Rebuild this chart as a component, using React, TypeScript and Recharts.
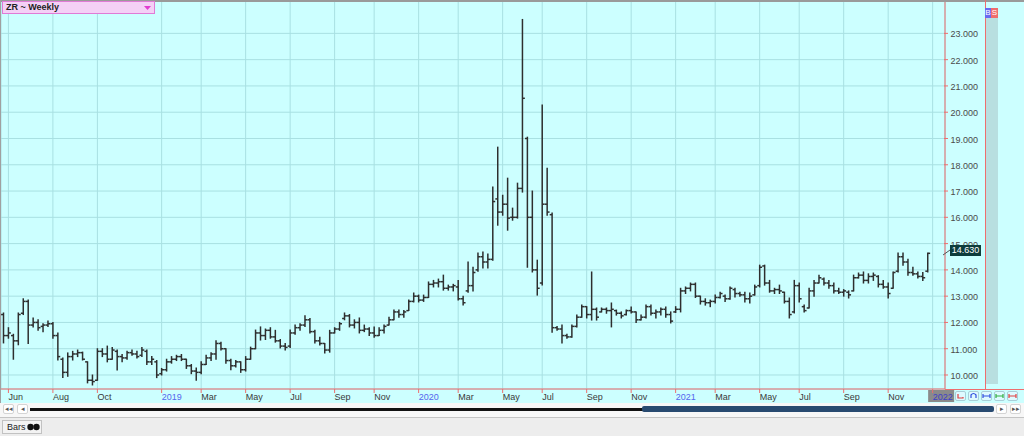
import React from "react";
import { ComposedChart, Bar, XAxis, YAxis, CartesianGrid } from "recharts";

// weekly OHLC, one entry per week from late May 2018 to the end of 2021
const opens = [
  12.3, 11.5, 11.5, 11.3, 12.35, 12.8, 11.9, 12.0, 11.85, 11.9,
  11.95, 11.5, 10.6, 10.1, 10.7, 10.8, 10.85, 10.5, 9.8, 9.8,
  10.9, 10.8, 10.6, 10.9, 10.7, 10.65, 10.85, 10.8, 10.75, 10.9,
  10.5, 10.5, 10.05, 10.2, 10.5, 10.6, 10.7, 10.6, 10.35, 10.15,
  10.1, 10.4, 10.65, 10.8, 11.2, 11.0, 10.55, 10.35, 10.5, 10.2,
  10.6, 11.0, 11.6, 11.5, 11.7, 11.45, 11.3, 11.1, 11.1, 11.6,
  11.8, 11.9, 12.1, 11.65, 11.3, 11.2, 10.95, 11.6, 11.75, 12.15,
  12.25, 11.9, 12.0, 11.7, 11.75, 11.6, 11.5, 11.7, 11.9, 12.1,
  12.4, 12.3, 12.45, 12.8, 13.0, 12.85, 12.95, 13.45, 13.5, 13.55,
  13.3, 13.35, 13.35, 12.9, 13.2, 13.4, 14.0, 14.5, 14.3, 14.4,
  16.7, 16.2, 16.5, 16.0, 16.0, 17.1, 19.0, 16.0, 14.0, 13.5,
  16.5, 16.1, 11.8, 11.75, 11.5, 11.45, 11.85, 12.2, 12.6, 12.3,
  12.5, 12.4, 12.5, 12.45, 12.45, 12.35, 12.3, 12.45, 12.4, 12.1,
  12.2, 12.6, 12.35, 12.4, 12.5, 12.3, 12.4, 12.5, 13.2, 13.3,
  13.45, 13.0, 12.8, 12.75, 12.8, 12.95, 13.0, 12.9, 13.25, 13.1,
  13.05, 12.9, 13.05, 13.4, 14.15, 13.5, 13.2, 13.25, 13.15, 12.8,
  12.4, 13.4, 12.6, 12.55, 13.2, 13.5, 13.65, 13.5, 13.4, 13.2,
  13.15, 13.15, 13.2, 13.7, 13.8, 13.6, 13.75, 13.75, 13.45, 13.35,
  13.3, 13.95, 14.5, 14.3, 13.9, 13.85, 13.75, 13.95,
];
const highs = [
  12.36, 11.8, 11.55, 12.36, 12.9, 12.85, 12.17, 12.1, 11.95, 12.05,
  12.0, 11.6, 10.65, 10.84, 10.9, 10.95, 10.87, 10.5, 10.0, 11.0,
  11.0, 11.1, 11.05, 10.95, 10.78, 10.9, 10.95, 10.9, 11.05, 10.95,
  10.7, 10.55, 10.25, 10.6, 10.7, 10.75, 10.78, 10.6, 10.4, 10.27,
  10.5, 10.75, 10.85, 11.3, 11.25, 11.0, 10.6, 10.55, 10.5, 10.7,
  11.06, 11.71, 11.83, 11.75, 11.8, 11.7, 11.35, 11.2, 11.71, 11.9,
  11.95, 12.25, 12.15, 11.7, 11.44, 11.2, 11.7, 11.8, 12.0, 12.36,
  12.3, 12.1, 12.17, 11.9, 11.8, 11.83, 11.8, 11.9, 12.2, 12.47,
  12.47, 12.45, 12.85, 13.12, 13.04, 13.04, 13.54, 13.6, 13.65, 13.8,
  13.42, 13.45, 13.6, 13.0, 14.3, 14.1, 14.64, 14.68, 14.6, 17.15,
  18.67, 16.84, 17.49, 16.35, 17.3, 23.53, 19.05, 17.0, 14.37, 20.27,
  17.87, 16.16, 11.85, 11.9, 11.55, 11.9, 12.28, 12.66, 12.6, 13.92,
  12.55, 12.55, 12.55, 12.74, 12.47, 12.4, 12.47, 12.59, 12.4, 12.28,
  12.66, 12.66, 12.47, 12.55, 12.59, 12.4, 12.6, 13.3, 13.35, 13.5,
  13.5, 13.0, 12.9, 12.85, 13.04, 13.15, 13.04, 13.35, 13.3, 13.15,
  13.15, 13.12, 13.42, 14.18, 14.18, 13.6, 13.3, 13.42, 13.15, 12.93,
  13.6, 13.5, 12.66, 13.3, 13.6, 13.8, 13.69, 13.6, 13.5, 13.3,
  13.25, 13.2, 13.8, 13.88, 13.92, 13.85, 13.88, 13.78, 13.6, 13.5,
  13.92, 14.64, 14.64, 14.4, 14.1, 13.92, 13.9, 14.64,
];
const lows = [
  11.22, 11.4, 10.6, 11.15, 12.3, 11.2, 11.83, 11.7, 11.65, 11.85,
  11.4, 10.57, 9.9, 9.95, 10.57, 10.7, 10.57, 9.7, 9.62, 9.8,
  10.7, 10.5, 10.6, 10.19, 10.5, 10.6, 10.75, 10.65, 10.7, 10.4,
  10.4, 9.9, 10.0, 10.15, 10.45, 10.55, 10.55, 10.25, 10.05, 9.8,
  10.05, 10.4, 10.55, 10.6, 10.95, 10.45, 10.2, 10.3, 10.1, 10.15,
  10.6, 11.0, 11.33, 11.35, 11.4, 11.25, 11.03, 10.95, 11.05, 11.55,
  11.7, 11.85, 11.6, 11.22, 11.14, 10.84, 10.87, 11.6, 11.7, 12.1,
  11.83, 11.79, 11.6, 11.65, 11.5, 11.44, 11.5, 11.6, 11.9, 12.1,
  12.2, 12.2, 12.45, 12.78, 12.78, 12.8, 12.95, 13.35, 13.35, 13.23,
  13.23, 13.2, 12.85, 12.66, 13.15, 13.2, 13.95, 14.07, 14.07, 14.37,
  15.7, 16.08, 15.51, 15.89, 15.97, 16.96, 14.1, 13.92, 13.04, 13.42,
  16.08, 11.63, 11.7, 11.22, 11.4, 11.44, 11.83, 12.2, 12.17, 12.09,
  12.09, 12.4, 12.35, 11.83, 12.28, 12.17, 12.28, 12.36, 12.0, 12.09,
  12.17, 12.28, 12.17, 12.28, 12.2, 11.98, 12.38, 12.4, 13.1, 13.2,
  12.95, 12.7, 12.66, 12.6, 12.74, 12.93, 12.8, 12.88, 12.97, 13.0,
  12.78, 12.74, 13.04, 13.35, 13.42, 13.15, 13.1, 13.1, 12.74, 12.17,
  12.36, 12.78, 12.4, 12.55, 13.0, 13.5, 13.42, 13.3, 13.12, 13.1,
  13.0, 12.93, 13.2, 13.69, 13.5, 13.5, 13.6, 13.35, 13.3, 12.93,
  13.3, 13.92, 14.18, 13.8, 13.8, 13.69, 13.6, 13.92,
];
const closes = [
  11.5, 11.6, 11.3, 12.3, 12.8, 11.9, 12.0, 11.8, 11.9, 11.95,
  11.5, 10.7, 10.1, 10.7, 10.8, 10.85, 10.6, 9.8, 9.75, 10.9,
  10.8, 10.6, 10.95, 10.7, 10.65, 10.85, 10.8, 10.7, 10.95, 10.5,
  10.6, 10.0, 10.2, 10.5, 10.6, 10.7, 10.6, 10.35, 10.15, 10.1,
  10.4, 10.65, 10.8, 11.2, 11.0, 10.55, 10.35, 10.5, 10.2, 10.6,
  11.0, 11.6, 11.5, 11.7, 11.45, 11.3, 11.1, 11.05, 11.6, 11.8,
  11.9, 12.1, 11.65, 11.3, 11.2, 10.95, 11.6, 11.75, 11.95, 12.25,
  11.9, 12.0, 11.7, 11.75, 11.6, 11.5, 11.7, 11.85, 12.1, 12.4,
  12.3, 12.4, 12.8, 13.0, 12.85, 12.95, 13.45, 13.5, 13.55, 13.3,
  13.35, 13.4, 12.9, 12.75, 13.4, 13.9, 14.5, 14.3, 14.4, 16.6,
  16.2, 16.5, 15.97, 16.0, 17.1, 20.53, 16.0, 14.0, 13.3, 16.5,
  16.2, 11.8, 11.75, 11.5, 11.45, 11.85, 12.2, 12.6, 12.3, 12.5,
  12.2, 12.5, 12.45, 12.5, 12.35, 12.25, 12.45, 12.4, 12.1, 12.2,
  12.6, 12.35, 12.4, 12.5, 12.3, 12.05, 12.5, 13.2, 13.3, 13.45,
  13.0, 12.8, 12.75, 12.8, 12.95, 13.1, 12.9, 13.3, 13.1, 13.05,
  12.9, 13.0, 13.35, 14.1, 13.5, 13.2, 13.25, 13.2, 12.8, 12.3,
  13.4, 12.9, 12.45, 13.2, 13.5, 13.7, 13.5, 13.4, 13.2, 13.15,
  13.2, 13.05, 13.7, 13.8, 13.6, 13.75, 13.8, 13.45, 13.35, 13.1,
  13.9, 14.5, 14.3, 13.9, 13.85, 13.75, 13.7, 14.63,
];

// week slots on the time axis (a few empty ones after the last bar)
const slotCount = 191;
const tickWeeks = [1, 10, 19, 32, 40, 49, 58, 67, 75, 84, 92, 101, 109, 118, 127, 136, 144, 153, 161, 170, 179, 188];
const tickLabels = ["Jun", "Aug", "Oct", "2019", "Mar", "May", "Jul", "Sep", "Nov", "2020", "Mar", "May", "Jul", "Sep", "Nov", "2021", "Mar", "May", "Jul", "Sep", "Nov", "2022"];
const priceTicks = [10, 11, 12, 13, 14, 15, 16, 17, 18, 19, 20, 21, 22, 23];
const lastPrice = closes[closes.length - 1];

const data = Array.from({ length: slotCount }, (_, i) =>
  i < opens.length
    ? { i, range: [lows[i], highs[i]], o: opens[i], c: closes[i] }
    : { i, range: null }
);

const FONT = '"Liberation Sans", Arial, sans-serif';
const RED = "#ee6e6e";
const BAR = "#2e2e2e";

function OhlcBar(props: any) {
  const { x, y, width, height, payload } = props;
  if (!payload || !payload.range) return null;
  const top = Math.min(y, y + height);
  const h = Math.abs(height);
  const [lo, hi] = payload.range;
  const span = hi - lo || 1;
  const cx = x + width / 2;
  const yOf = (v: number) => top + ((hi - v) / span) * h;
  return (
    <g stroke={BAR} strokeWidth={1.5}>
      <line x1={cx} x2={cx} y1={top - 0.5} y2={top + h + 0.5} />
      <line x1={cx - 2.4} x2={cx} y1={yOf(payload.o)} y2={yOf(payload.o)} />
      <line x1={cx} x2={cx + 2.4} y1={yOf(payload.c)} y2={yOf(payload.c)} />
    </g>
  );
}

function TimeTick(props: any) {
  const { x, y, payload } = props;
  const idx = tickWeeks.indexOf(payload.value);
  const label = tickLabels[idx] ?? "";
  const isYear = /^\d{4}$/.test(label);
  const isLast = idx === tickWeeks.length - 1;
  return (
    <g>
      {isLast && <rect x={x - 4.5} y={y + 1} width={26} height={12} fill="#8a8a8a" />}
      <line x1={x} x2={x} y1={y} y2={y + 4} stroke={RED} strokeWidth={1} />
      <text x={x} y={y + 10.5} fontSize={9} fontFamily={FONT} fill={isYear ? (isLast ? "#3d3dc8" : "#5566ee") : "#3a3a3a"}>
        {label}
      </text>
    </g>
  );
}

function PriceTick(props: any) {
  const { x, y, payload } = props;
  return (
    <g>
      <line x1={x - 1} x2={x + 3} y1={y} y2={y} stroke={RED} strokeWidth={1} />
      <text x={x + 5.5} y={y} dy="0.45em" fontSize={9} fontFamily={FONT} fill="#4a4a4a">
        {Number(payload.value).toFixed(3)}
      </text>
    </g>
  );
}

function SmallButton({ left, children }: { left: number; children: React.ReactNode }) {
  return (
    <div style={{ position: "absolute", left, top: 391, width: 11, height: 10, borderRadius: 2, border: "1px solid #a9cfd8", background: "#dffaff", boxSizing: "border-box" }}>
      <svg width={9} height={8} style={{ position: "absolute", left: 0, top: 0 }}>{children}</svg>
    </div>
  );
}

function ScrollButton({ left, glyph }: { left: number; glyph: string }) {
  return (
    <div style={{ position: "absolute", left, top: 404, width: 11, height: 10, borderRadius: 2, border: "1px solid #d4d4d4", background: "#ffffff", boxSizing: "border-box", fontSize: 7, lineHeight: "8px", textAlign: "center", color: "#555", fontFamily: FONT }}>
      {glyph}
    </div>
  );
}

export default function App() {
  return (
    <div style={{ position: "absolute", left: 0, top: 0, width: 1024, height: 436, background: "#ededed", overflow: "hidden", fontFamily: FONT }}>
      <div style={{ position: "absolute", left: 0, top: 0, width: 1024, height: 403, background: "#ccffff" }} />
      <div style={{ position: "absolute", left: 986, top: 18, width: 12, height: 366, background: "#b8dfe0" }} />
      <div style={{ position: "absolute", left: 0, top: 0 }}>
        <ComposedChart width={1024} height={403} data={data} margin={{ top: 0, right: 0, bottom: 0, left: 1 }}>
          <CartesianGrid stroke="#a8e0e2" strokeWidth={1} />
          <XAxis
            dataKey="i"
            type="category"
            ticks={tickWeeks}
            interval={0}
            height={14}
            tickSize={0}
            tickMargin={0}
            tickLine={false}
            axisLine={{ stroke: RED }}
            tick={<TimeTick />}
          />
          <YAxis
            orientation="right"
            type="number"
            domain={[9.467, 24.27]}
            allowDataOverflow
            ticks={priceTicks}
            width={79}
            tickSize={0}
            tickMargin={0}
            tickLine={false}
            axisLine={{ stroke: RED }}
            tick={<PriceTick />}
          />
          <Bar dataKey="range" shape={OhlcBar} isAnimationActive={false} />
        </ComposedChart>
      </div>

      {/* frame lines */}
      <div style={{ position: "absolute", left: 0, top: 0, width: 1024, height: 2, background: "#9a9a9a" }} />
      <div style={{ position: "absolute", left: 0, top: 0, width: 1, height: 403, background: "#a0a0a0" }} />
      <div style={{ position: "absolute", left: 985, top: 0, width: 1, height: 389, background: RED }} />
      <div style={{ position: "absolute", left: 945, top: 389, width: 79, height: 1, background: RED }} />

      {/* header */}
      <div style={{ position: "absolute", left: 2, top: 1, width: 153, height: 13, background: "#f4d0f6", border: "1.5px solid #e07ad6", boxSizing: "border-box" }}>
        <span style={{ position: "absolute", left: 3, top: 0, fontSize: 9, fontWeight: "bold", lineHeight: "11px", color: "#222" }}>ZR ~ Weekly</span>
        <svg width={8} height={5} style={{ position: "absolute", left: 141, top: 4 }}>
          <polygon points="0,0 7,0 3.5,4" fill="#e03cd0" />
        </svg>
      </div>

      {/* B / S markers */}
      <div style={{ position: "absolute", left: 985, top: 8, width: 6, height: 10, background: "#6a6af0", color: "#fff", fontSize: 8, lineHeight: "10px", textAlign: "center" }}>B</div>
      <div style={{ position: "absolute", left: 991, top: 8, width: 7, height: 10, background: "#ef6d6d", color: "#fff", fontSize: 8, lineHeight: "10px", textAlign: "center" }}>S</div>

      {/* last price marker */}
      <svg width={10} height={10} style={{ position: "absolute", left: 942, top: 248 }}>
        <line x1={1} y1={7} x2={8} y2={2} stroke="#555" strokeWidth={1} />
      </svg>
      <div style={{ position: "absolute", left: 950, top: 245, width: 31, height: 11, background: "#0d3c3c", color: "#fff", fontSize: 9, lineHeight: "11px", textAlign: "center" }}>
        {lastPrice.toFixed(3)}
      </div>

      {/* small tool buttons */}
      <SmallButton left={955}><path d="M2 2 V6 H7 V5" stroke="#e04040" fill="none" strokeWidth={1.2} /></SmallButton>
      <SmallButton left={968}><path d="M2 6 V3 Q4.5 0 7 3 V6" stroke="#3050e0" fill="none" strokeWidth={1.2} /></SmallButton>
      <SmallButton left={981}><path d="M1 4 H8 M1 2 V6 M8 2 V6" stroke="#3050e0" fill="none" strokeWidth={1.2} /></SmallButton>
      <SmallButton left={994}><path d="M1 4 H8 M1 2 V6 M8 2 V6" stroke="#30b040" fill="none" strokeWidth={1.2} /></SmallButton>
      <SmallButton left={1007}><path d="M1 4 H8 M1 2 V6 M8 2 V6" stroke="#e04040" fill="none" strokeWidth={1.2} /></SmallButton>

      {/* scroll row */}
      <div style={{ position: "absolute", left: 0, top: 403, width: 1024, height: 14, background: "#f7f7f7" }} />
      <ScrollButton left={3} glyph="◂◂" />
      <ScrollButton left={17} glyph="◂" />
      <div style={{ position: "absolute", left: 30, top: 408, width: 613, height: 3, background: "#111" }} />
      <div style={{ position: "absolute", left: 642, top: 406, width: 352, height: 6, borderRadius: 2, background: "#284a70" }} />
      <ScrollButton left={996} glyph="▸" />
      <ScrollButton left={1010} glyph="▸▸" />

      {/* bottom panel */}
      <div style={{ position: "absolute", left: 0, top: 417, width: 1024, height: 1, background: "#c4c4c4" }} />
      <div style={{ position: "absolute", left: 2, top: 420, width: 40, height: 14, border: "1px solid #c2c2c2", background: "#f3f3f3", boxSizing: "border-box", fontSize: 9, lineHeight: "12px", color: "#222" }}>
        <span style={{ position: "absolute", left: 4, top: 0 }}>Bars</span>
        <svg width={14} height={8} style={{ position: "absolute", left: 24, top: 2 }}>
          <circle cx={3.5} cy={4} r={3.2} fill="#111" />
          <circle cx={9.5} cy={4} r={3.2} fill="#111" />
        </svg>
      </div>
    </div>
  );
}
